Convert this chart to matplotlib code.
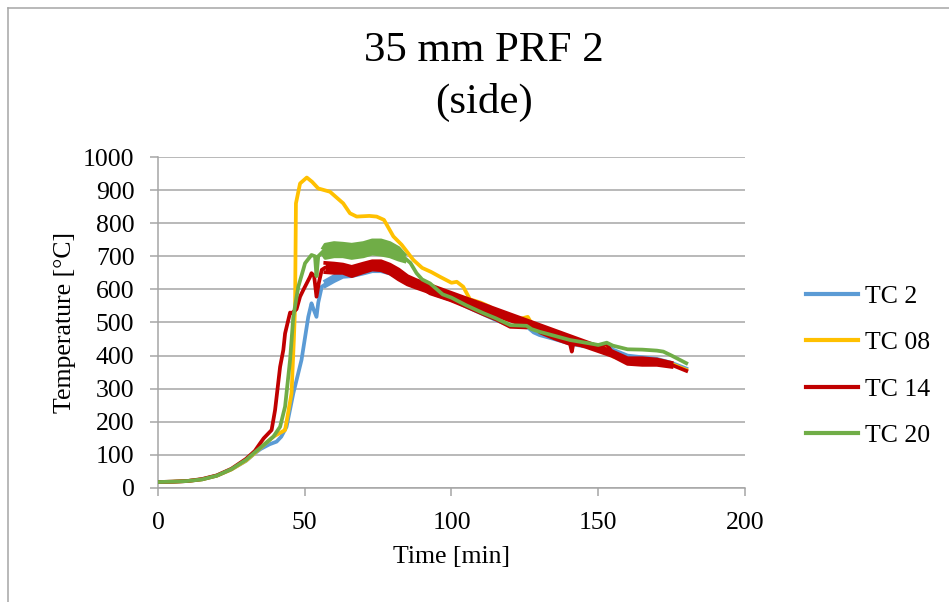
import matplotlib
matplotlib.use("Agg")
import matplotlib.pyplot as plt
from matplotlib.lines import Line2D

plt.rcParams["font.family"] = ["Liberation Serif", "DejaVu Serif"]

# smooth part of each curve (time in min, temperature in degC)
tc2_t = [0, 5, 10, 15, 20, 25, 30, 33, 35, 38, 40.4, 42, 43.8, 46.1, 48.9, 51.2,
         52.3, 53, 54, 54.6, 55.8, 57.5, 59.7, 63, 66.5, 70, 75, 78, 80, 85, 90,
         95, 100, 105, 110, 115, 120, 124, 126, 128, 130, 135, 140, 145, 150,
         153, 155, 160, 165, 170, 175, 180]
tc2_T = [18, 19, 21, 26, 37, 56, 82, 105, 118, 132, 140, 155, 185, 286, 387, 517,
         558, 540, 517, 560, 608, 618, 632, 645, 648, 655, 662, 660, 652, 628, 605,
         585, 570, 548, 528, 508, 490, 487, 485, 470, 462, 450, 437, 428, 427,
         435, 418, 400, 395, 390, 378, 361]

tc08_t = [0, 5, 10, 15, 20, 25, 30, 33, 35, 39.3, 43.3, 45.5, 46.3, 46.7, 47.0,
          48.4, 50.7, 52.5, 54.6, 58.6, 63.1, 65.4, 67.7, 72, 74.5, 77, 80.2, 83,
          87, 90, 93, 96.1, 100, 101.8, 104, 106.3, 110, 113, 116, 118, 120, 123,
          126, 127.3, 130, 135, 140, 145, 150, 152, 153.5, 155, 160, 165, 170, 175,
          180]
tc08_T = [18, 19, 21, 26, 37, 56, 83, 106, 122, 155, 175, 286, 450, 548, 860,
          920, 938, 925, 905, 895, 860, 830, 820, 822, 820, 810, 760, 735,
          689, 665, 653, 638, 620, 623, 608, 570, 560, 548, 525, 512, 507, 510,
          517, 497, 475, 458, 440, 430, 428, 432, 415, 397, 385, 383, 384, 375,
          357]

tc14_t = [0, 5, 10, 15, 20, 25, 30, 33, 34.8, 36, 38.7, 39.9, 41.6, 42.7, 43.3, 45,
          45.5, 47.2, 48.4, 49.5, 51.8, 52.3, 53.2, 54, 54.8, 55.8, 57, 60, 63, 66,
          70, 73, 76, 79, 82, 85, 88, 92.7, 99.5, 105, 110.9, 115, 120, 125.6, 127,
          128, 130.2, 135, 140.4, 141, 141.5, 145, 148.3, 150, 152.9, 155, 160,
          165, 170, 175, 180]
tc14_T = [18, 19, 21, 27, 38, 58, 88, 112, 135, 150, 175, 236, 366, 417, 467, 530,
          528, 540, 578, 598, 638, 649, 640, 578, 620, 659, 666, 664, 662, 654,
          665, 672, 671, 661, 645, 627, 616, 588, 568, 548, 525, 510, 487, 485, 502,
          490, 470, 452, 435, 412, 435, 430, 428, 425, 435, 405, 383,
          382, 380, 372, 354]

tc20_t = [0, 5, 10, 15, 20, 25, 30, 33, 36, 39.3, 41.6, 43.3, 45, 46.1, 47.8, 49.5,
          50.1, 52.3, 53.5, 54, 54.6, 56.3, 57, 60, 63, 66, 70, 73, 76, 79, 82, 84,
          86, 88.1, 90, 92.7, 97, 100, 105, 110.9, 115, 120, 125.6, 127.3, 130, 135,
          140.4, 145, 148.3, 150, 152.9, 155, 160, 165, 170, 172.2, 175, 180]
tc20_T = [18, 19, 21, 26, 37, 57, 85, 108, 130, 155, 185, 246, 387, 517, 608, 660,
          679, 704, 700, 640, 700, 715, 715, 720, 719, 715, 720, 728, 726, 720, 707,
          695, 680, 649, 630, 618, 585, 575, 552, 528, 513, 492, 490, 480, 472,
          460, 447, 440, 435, 432, 439, 430, 419, 418, 415, 412, 400, 377]

# noisy band (low / high envelope) where the signal oscillates
tc2_bt = [57, 60, 63, 66, 70, 73, 76, 79, 82]
tc2_lo = [610, 625, 638, 640, 648, 655, 655, 648, 635]
tc2_hi = [625, 640, 652, 655, 662, 670, 670, 662, 650]

tc14_bt = [57, 60, 63, 66, 70, 73, 76, 79, 82, 85, 88, 155, 160, 165, 170, 175]
tc14_lo = [652, 650, 650, 640, 652, 660, 658, 648, 630, 615, 605, 398, 375, 372, 372, 366]
tc14_hi = [680, 678, 675, 668, 678, 685, 685, 675, 660, 640, 628, 412, 392, 392, 388, 378]

tc20_bt = [56.3, 57, 60, 63, 66, 70, 73, 76, 79, 82, 84]
tc20_lo = [705, 695, 700, 700, 695, 700, 708, 705, 700, 690, 685]
tc20_hi = [725, 735, 740, 738, 735, 740, 748, 748, 740, 725, 705]

labels = ["TC 2", "TC 08", "TC 14", "TC 20"]
colors = ["#5B9BD5", "#FFC000", "#C00000", "#70AD47"]
x_ticks = [0, 50, 100, 150, 200]
y_ticks = [0, 100, 200, 300, 400, 500, 600, 700, 800, 900, 1000]

fig = plt.figure(figsize=(9.49, 6.02), dpi=100)
ax = fig.add_axes([0.1665, 0.1894, 0.6185, 0.5498])

lw = 2.7
series = [
    (tc2_t, tc2_T, tc2_bt, tc2_lo, tc2_hi),
    (tc08_t, tc08_T, None, None, None),
    (tc14_t, tc14_T, tc14_bt, tc14_lo, tc14_hi),
    (tc20_t, tc20_T, tc20_bt, tc20_lo, tc20_hi),
]
for (t, T, bt, lo, hi), c in zip(series, colors):
    ax.plot(t, T, color=c, lw=lw, solid_joinstyle="round", zorder=3)
    if bt is not None:
        ax.fill_between(bt, lo, hi, color=c, lw=0, zorder=3)
        ax.plot(bt, lo, color=c, lw=lw, zorder=3)
        ax.plot(bt, hi, color=c, lw=lw, zorder=3)

ax.set_xlim(0, 200)
ax.set_ylim(0, 1000)
ax.set_xticks(x_ticks)
ax.set_yticks(y_ticks)
ax.grid(axis="y", color="#A6A6A6", lw=1.1)
ax.set_axisbelow(True)
for s in ["top", "right"]:
    ax.spines[s].set_visible(False)
for s in ["left", "bottom"]:
    ax.spines[s].set_color("#A6A6A6")
    ax.spines[s].set_linewidth(1.1)
ax.tick_params(direction="out", length=6, width=1.1, color="#A6A6A6",
               labelsize=18.5)
ax.tick_params(axis="y", pad=11)
ax.tick_params(axis="x", pad=11)

ax.set_xlabel("Time [min]", fontsize=18.5, labelpad=9)
ax.set_ylabel("Temperature [°C]", fontsize=18.5, labelpad=5)
fig.text(0.51, 0.915, "35 mm PRF 2", fontsize=31, ha="center", va="center")
fig.text(0.51, 0.83, "(side)", fontsize=31, ha="center", va="center")

handles = [Line2D([], [], color=c, lw=3) for c in colors]
fig.legend(handles, labels, loc="center left", bbox_to_anchor=(0.849, 0.392),
           frameon=False, fontsize=18.5, handlelength=2.05, handletextpad=0.25,
           labelspacing=0.9, borderpad=0, borderaxespad=0)

# outer chart border
fig.add_artist(Line2D([0.0085, 0.0085], [0, 0.987], color="#A6A6A6", lw=1.1))
fig.add_artist(Line2D([0.0085, 1.0], [0.987, 0.987], color="#A6A6A6", lw=1.1))

fig.savefig("out.png", dpi=100)
